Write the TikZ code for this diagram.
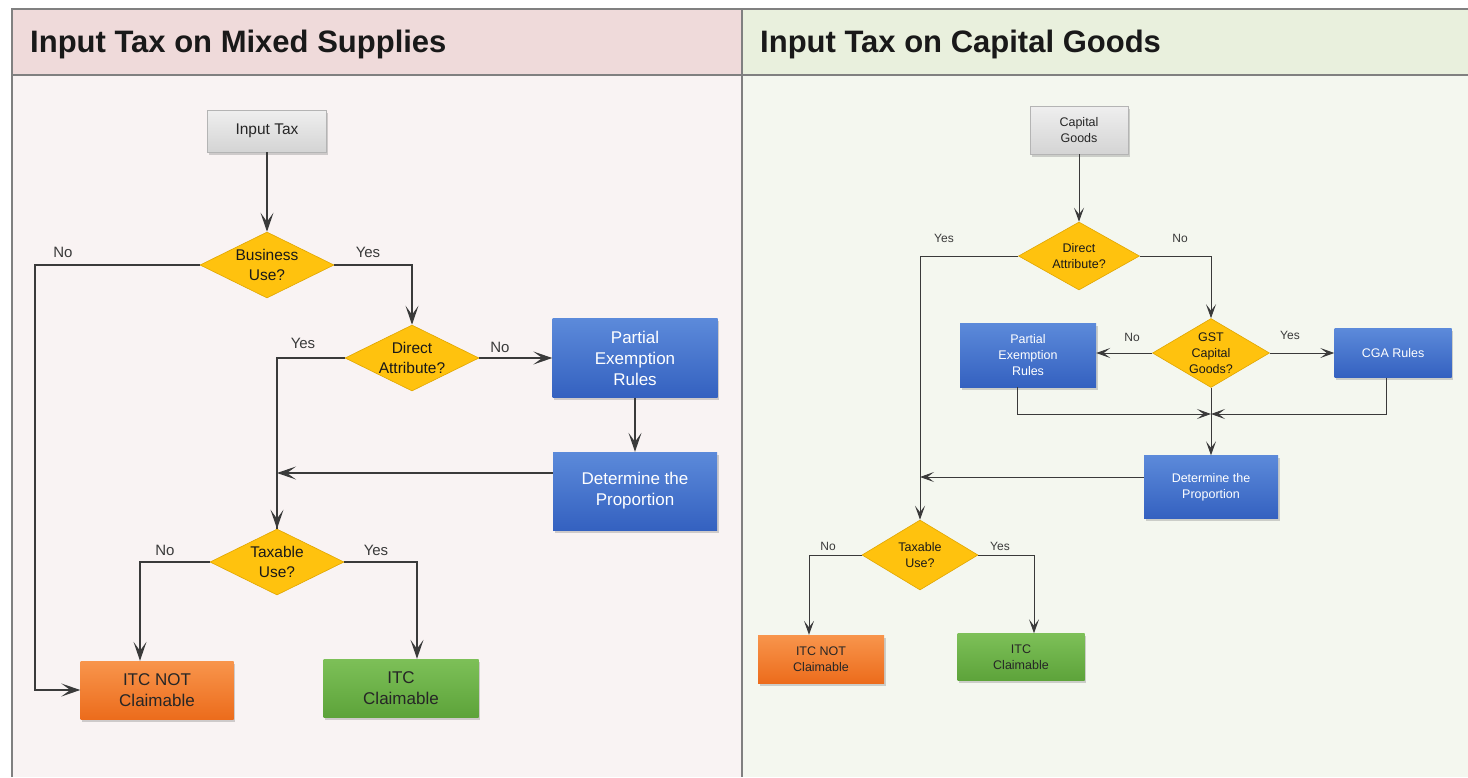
\documentclass[tikz,border=0pt]{standalone}
\usepackage{fontspec}
\setmainfont{Liberation Sans}
\usetikzlibrary{arrows.meta,shapes.geometric,shadows}
\definecolor{hdrL}{HTML}{EFDADA}
\definecolor{bodyL}{HTML}{F9F3F3}
\definecolor{hdrR}{HTML}{E9F0DD}
\definecolor{bodyR}{HTML}{F4F7EF}
\definecolor{framec}{HTML}{808080}
\definecolor{dia}{HTML}{FFC20E}
\definecolor{diaB}{HTML}{E0A600}
\definecolor{blueT}{HTML}{5C8ADA}
\definecolor{blueB}{HTML}{3461C0}
\definecolor{orT}{HTML}{F8954C}
\definecolor{orB}{HTML}{EC6C1C}
\definecolor{grT}{HTML}{7DC058}
\definecolor{grB}{HTML}{5DA33A}
\definecolor{grayT}{HTML}{EFEFEF}
\definecolor{grayB}{HTML}{D4D4D4}
\definecolor{ln}{HTML}{3A3A3A}
\begin{document}
\begin{tikzpicture}[x=1pt,y=-1pt,
  box/.style={rectangle, inner sep=0pt, align=center,
    drop shadow={opacity=0.35,shadow xshift=1.5pt,shadow yshift=-2.5pt}},
  graybox/.style={box, top color=grayT, bottom color=grayB, draw=grayB!85!black, line width=0.4pt, text=black!85},
  bluebox/.style={box, top color=blueT, bottom color=blueB, text=white},
  orbox/.style={box, top color=orT, bottom color=orB, text=black!85},
  grbox/.style={box, top color=grT, bottom color=grB, text=black!85},
  dec/.style={diamond, fill=dia, draw=diaB, line width=0.6pt, inner sep=0pt},
  dtxt/.style={align=center, text=black!90, inner sep=0pt},
  line/.style={draw=ln, line width=1.2pt},
  arr/.style={line, -{Stealth[length=19pt,width=13pt,inset=9pt]}},
  sline/.style={draw=ln, line width=1pt},
  sarr/.style={sline, -{Stealth[length=14pt,width=10pt,inset=6.5pt]}},
  lbl/.style={font=\fontsize{15}{15}\selectfont, text=ln, inner sep=0pt},
  slbl/.style={font=\fontsize{12}{12}\selectfont, text=ln, inner sep=0pt},
  ttl/.style={font=\fontsize{31}{31}\selectfont\bfseries, text=black!90, anchor=west, inner sep=0pt},
  bigf/.style={font=\fontsize{17}{21}\selectfont},
  medf/.style={font=\fontsize{15.5}{19.5}\selectfont},
  smf/.style={font=\fontsize{12.5}{16}\selectfont}
]
\useasboundingbox (0,0) rectangle (1468,777);
\fill[white] (0,0) rectangle (1468,777);
% panels
\fill[hdrL] (12,9) rectangle (742,75);
\fill[bodyL] (12,75) rectangle (742,777);
\fill[hdrR] (742,9) rectangle (1468,75);
\fill[bodyR] (742,75) rectangle (1468,777);
\draw[framec, line width=1.5pt] (12,75) -- (1468,75);
\draw[framec, line width=2pt] (12,777) -- (12,9) -- (1468,9);
\draw[framec, line width=1.5pt] (742,9) -- (742,777);
\node[ttl] (t1) at (30,44) {Input Tax on Mixed Supplies};
\node[ttl] (t2) at (760,44) {Input Tax on Capital Goods};

% ---------- Left panel ----------
\node[graybox, minimum width=119, minimum height=42, medf] (in) at (267,131) {Input Tax};
\node[dec, minimum width=134, minimum height=66,
  label={[dtxt,medf]center:Business\\Use?}] (bus) at (267,265) {};
\node[dec, minimum width=134, minimum height=66,
  label={[dtxt,medf]center:Direct\\Attribute?}] (dir) at (412,358) {};
\node[bluebox, minimum width=165, minimum height=79, bigf] (part) at (635,358) {Partial\\Exemption\\Rules};
\node[bluebox, minimum width=164, minimum height=78, bigf] (det) at (635,491) {Determine the\\Proportion};
\node[dec, minimum width=134, minimum height=66,
  label={[dtxt,medf]center:Taxable\\Use?}] (tax) at (277,562) {};
\node[orbox, minimum width=153, minimum height=58, bigf] (itcno) at (157,690) {ITC NOT\\Claimable};
\node[grbox, minimum width=155, minimum height=58, bigf] (itc) at (401,688) {ITC\\Claimable};

\coordinate (lrail) at (35,265);
\coordinate (detL) at ([yshift=18pt]det.west);

\draw[arr] (in) -- (bus);
\draw[arr] (bus.west) -- (lrail) |- (itcno.west);
\draw[arr] (bus.east) -| (dir.north);
\draw[arr] (dir.east) -- (part.west);
\draw[line] (dir.west) -| (tax.north);
\draw[arr] (dir.west -| tax.north) -- (tax.north);
\draw[arr] (part) -- (det);
\draw[arr] (detL) -- (detL -| tax.north);
\draw[arr] (tax.west) -| ([xshift=-17pt]itcno.north);
\draw[arr] (tax.east) -| ([xshift=16pt]itc.north);

\node[lbl] (l1) at (63,252) {No};
\node[lbl] (l2) at (368,252) {Yes};
\node[lbl] (l3) at (303,343) {Yes};
\node[lbl] (l4) at (500,347) {No};
\node[lbl] (l5) at (165,550) {No};
\node[lbl] (l6) at (376,550) {Yes};

% ---------- Right panel ----------
\node[graybox, minimum width=98, minimum height=48, smf] (cap) at (1079,130) {Capital\\Goods};
\node[dec, minimum width=121, minimum height=68,
  label={[dtxt,smf]center:Direct\\Attribute?}] (rdir) at (1079,256) {};
\node[dec, minimum width=117, minimum height=69,
  label={[dtxt,smf]center:GST\\Capital\\Goods?}] (gst) at (1211,353) {};
\node[bluebox, minimum width=136, minimum height=64, smf] (rpart) at (1028,355) {Partial\\Exemption\\Rules};
\node[bluebox, minimum width=117, minimum height=49, smf] (cga) at (1393,353) {CGA Rules};
\node[bluebox, minimum width=134, minimum height=63, smf] (rdet) at (1211,487) {Determine the\\Proportion};
\node[dec, minimum width=116, minimum height=70,
  label={[dtxt,smf]center:Taxable\\Use?}] (rtax) at (920,555) {};
\node[orbox, minimum width=126, minimum height=48, smf] (ritcno) at (821,659) {ITC NOT\\Claimable};
\node[grbox, minimum width=127, minimum height=47, smf] (ritc) at (1021,657) {ITC\\Claimable};

\coordinate (mrg) at (1211,414);
\coordinate (rdetL) at ([yshift=10pt]rdet.west);

\draw[sarr] (cap) -- (rdir);
\draw[sarr] (rdir.west) -| (rtax.north);
\draw[sarr] (rdir.east) -| (gst.north);
\draw[sarr] (gst.west) -- (rpart.east |- gst.west);
\draw[sarr] (gst.east) -- (cga.west |- gst.east);
\draw[sarr] (gst.south) -- (rdet.north);
\draw[sarr] ([xshift=-11pt]rpart.south) |- (mrg);
\draw[sarr] ([xshift=-7pt]cga.south) |- (mrg);
\draw[sarr] (rdetL) -- (rdetL -| rtax.north);
\draw[sarr] (rtax.west) -| ([xshift=-12pt]ritcno.north);
\draw[sarr] (rtax.east) -| ([xshift=13pt]ritc.north);

\node[slbl] (r1) at (944,238) {Yes};
\node[slbl] (r2) at (1180,238) {No};
\node[slbl] (r3) at (1132,337) {No};
\node[slbl] (r4) at (1290,335) {Yes};
\node[slbl] (r5) at (828,546) {No};
\node[slbl] (r6) at (1000,546) {Yes};
\end{tikzpicture}
\end{document}
